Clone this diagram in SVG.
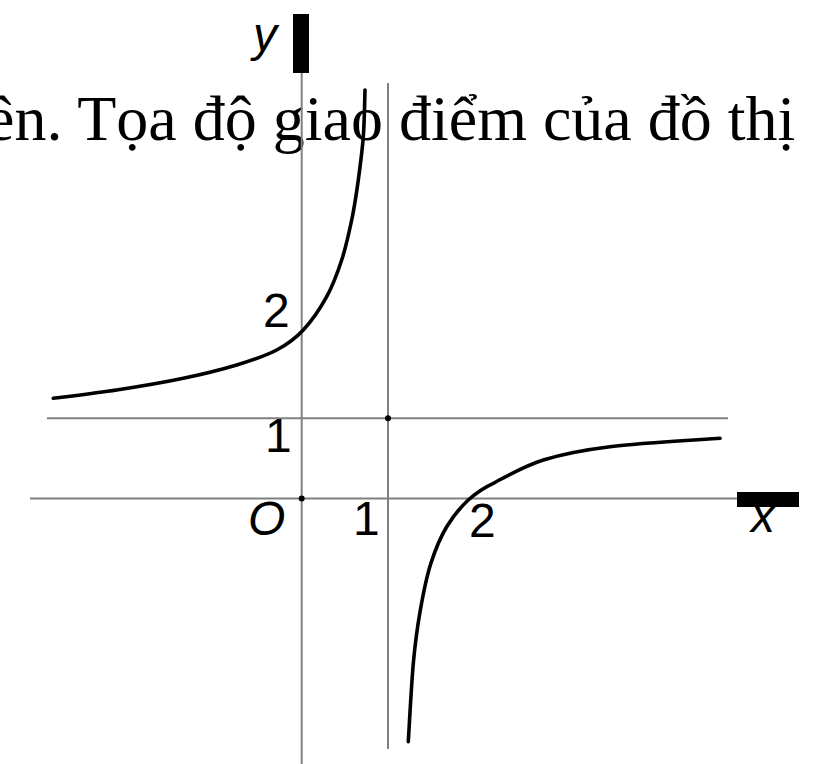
<svg xmlns="http://www.w3.org/2000/svg" width="817" height="764" viewBox="0 0 817 764">
<style>
.txt{font-family:"Liberation Serif","Times New Roman",serif;font-size:64px;fill:#000}
.lbl{font-family:"Liberation Sans",Arial,sans-serif;font-size:48px;fill:#000}
.it{font-style:italic}
.axis{stroke:#808080;stroke-width:2;fill:none}
.curve{stroke:#000;stroke-width:3.6;fill:none;stroke-linecap:round;stroke-linejoin:round}
</style>
<rect width="817" height="764" fill="#fff"/>
<text class="txt" x="-14" y="140">ên. Tọa độ giao điểm của đồ thị</text>
<g id="axes">
<line class="axis" x1="301.7" y1="70" x2="301.7" y2="764"/>
<line class="axis" x1="30" y1="498.5" x2="740" y2="498.5"/>
<rect x="293" y="14" width="16" height="59" fill="#000"/>
<rect x="737" y="492" width="62" height="15" fill="#000"/>
</g>
<g id="asymptotes">
<line class="axis" x1="388" y1="83" x2="388" y2="749"/>
<line class="axis" x1="47" y1="418.3" x2="728" y2="418.3"/>
<circle cx="301.7" cy="498.5" r="3" fill="#000"/>
<circle cx="388" cy="418.3" r="3" fill="#000"/>
</g>
<g id="curve">
<path class="curve" d="M53.3 398.3 C63.9 396.9 95 393.3 116.7 390 C138.4 386.7 163.3 382.5 183.3 378.3 C203.3 374.1 221.1 369.7 236.7 365 C252.3 360.3 265.6 355.8 276.7 350 C287.8 344.2 295 338.9 303.3 330 C311.6 321.1 320.3 308.4 326.7 296.7 C333.1 285 337.5 272.8 341.7 260 C345.9 247.2 348.9 233.3 351.7 220 C354.5 206.7 356.4 193.9 358.3 180 C360.2 166.1 362.2 151.3 363.3 136.7 C364.4 122.1 364.7 100 365 90"/>
<path class="curve" d="M408.3 741.7 C409.1 728.6 411.4 684.7 413.3 663.3 C415.3 641.9 417.2 628 420 612 C422.8 596 426 578 431 563 C435.5 549 440.3 537.3 446.7 526.7 C453.1 516.2 460.5 507.2 468.3 500 C476.1 492.8 482 488.5 493.3 483.3 C505.8 476.6 523.9 466.1 543.3 460 C562.8 453.9 580.6 450.3 610 446.7 C639.5 443.1 701.7 439.7 720 438.3"/>
</g>
<g id="labels">
<text class="lbl it" x="253" y="51">y</text>
<text class="lbl" x="263" y="327">2</text>
<text class="lbl" x="265" y="452">1</text>
<text class="lbl it" x="248" y="535">O</text>
<text class="lbl" x="353" y="535">1</text>
<text class="lbl" x="469" y="537">2</text>
<text class="lbl it" x="751" y="532">x</text>
</g>
</svg>
